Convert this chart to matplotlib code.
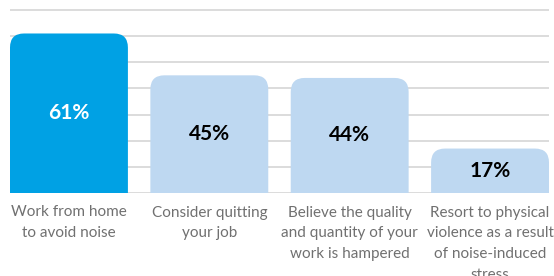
import numpy as np
import matplotlib.pyplot as plt
from matplotlib.patches import FancyBboxPatch

# Data
categories = ['Work from home\nto avoid noise',
              'Consider quitting\nyour job',
              'Believe the quality\nand quantity of your\nwork is hampered',
              'Resort to physical\nviolence as a result\nof noise-induced\nstress']
values = [61, 45, 44, 17]
bar_colors = ['#00a1e4', '#bed8f1', '#bed8f1', '#bed8f1']
text_colors = ['white', 'black', 'black', 'black']

plt.rcParams['font.family'] = ['Lato', 'DejaVu Sans']

W, H = 554, 276
fig = plt.figure(figsize=(W / 100, H / 100), dpi=100)

px_per_pct = 2.615
ytop = 70.5
left, right = 10, 549
base = 83
ax = fig.add_axes([left / W, base / H, (right - left) / W, ytop * px_per_pct / H])

width = 0.84
x = np.arange(len(values))
ax.set_xlim(-width / 2, len(values) - 1 + width / 2)
ax.set_ylim(0, ytop)

# rounded top corners, bottom clipped by axes
x_unit = (right - left) / (len(values) - 1 + width)
radius_px = 14
rx = radius_px / x_unit
ry = radius_px / px_per_pct
for xi, v, c, tc in zip(x, values, bar_colors, text_colors):
    p = FancyBboxPatch((xi - width / 2, -20), width, v + 20,
                       boxstyle=f'round,pad=0,rounding_size={rx}',
                       mutation_aspect=ry / rx,
                       facecolor=c, edgecolor='none', zorder=2)
    ax.add_patch(p)
    ax.text(xi, v / 2, f'{v}%', ha='center', va='center', color=tc,
            fontsize=15, fontweight='bold', zorder=3)

ax.set_yticks(np.arange(0, 71, 10))
ax.yaxis.grid(True, color='#d6d6d6', linewidth=1.2)
ax.set_axisbelow(True)
ax.tick_params(axis='y', length=0, labelleft=False)

ax.set_xticks(x)
ax.set_xticklabels(categories, fontsize=11, color='#707070', linespacing=1.62,
                   va='top')
ax.tick_params(axis='x', length=0, pad=9)

for s in ax.spines.values():
    s.set_visible(False)

fig.savefig('out.png', dpi=100)
